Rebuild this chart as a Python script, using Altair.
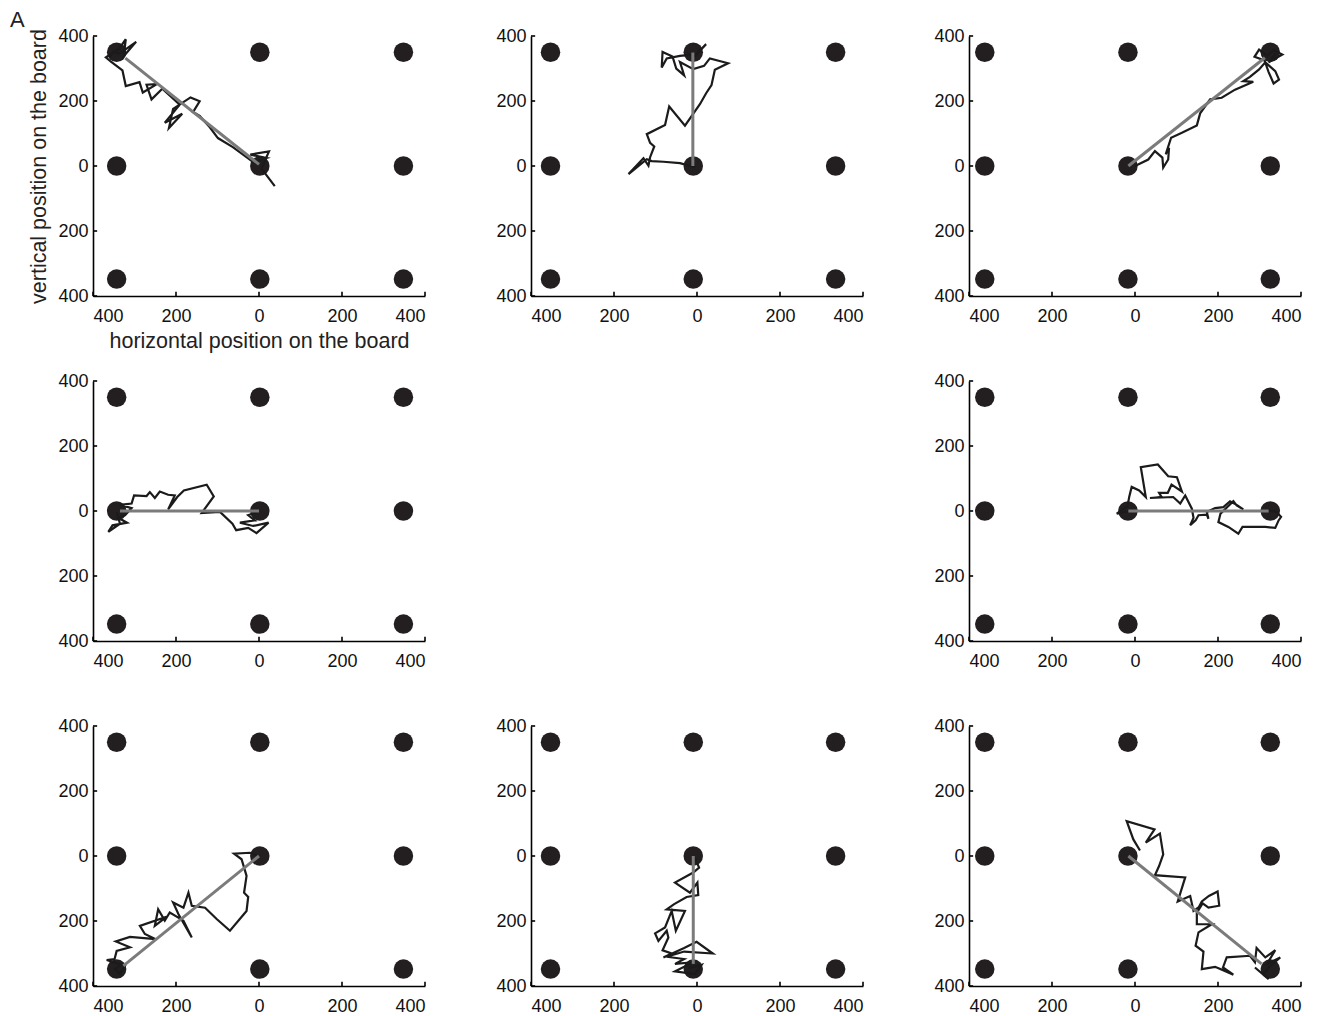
import altair as alt
import pandas as pd

# ---------------- data (board units) ----------------
TICKS = [-400, -200, 0, 200, 400]
DOT_Y = [350, 0, -348]
DOT_X_COL1 = [-343, 2, 348]
DOT_X_COL2 = [-353, -9, 334]
DOT_X_COL3 = [-362, -17, 326]

# panel 1 (row 1, col 1): to upper-left target
P1_X = [38, 6, 24, -21, 18, -14, -63, -99, -119, -143, -159, -143, -165, -207, -217, -185, -227, -191, -233, -259,
        -271, -246, -280, -288, -321, -329, -356, -369, -337, -321, -326, -304, -296, -336, -352, -360]
P1_Y = [-62, -8, 45, 35, 25, 12, 58, 86, 120, 154, 166, 199, 211, 176, 117, 161, 133, 189, 238, 205,
        250, 252, 226, 258, 246, 294, 320, 334, 361, 390, 338, 371, 382, 346, 351, 335]
P1_LINE_X = [0, -322]
P1_LINE_Y = [5, 332]

# panel 2 (row 1, col 2): to upper target
P2_X = [-5, -41, -81, -109, -121, -165, -129, -117, -113, -103, -113, -121, -77, -67, -29, 7, 22, 35, 43, 75,
        31, 17, -9, -41, -31, -50, -59, -83, -85, -73, -41, -1, 22, -5, -13]
P2_Y = [-4, 9, 13, 15, 21, -25, 24, 1, 27, 60, 71, 98, 126, 183, 124, 190, 224, 249, 296, 316,
        331, 308, 298, 320, 279, 300, 337, 351, 303, 331, 339, 344, 375, 339, 349]
P2_LINE_X = [-10, -10]
P2_LINE_Y = [0, 349]

# panel 3 (row 1, col 3): to upper-right target
P3_X = [0, 32, 48, 66, 68, 80, 82, 74, 87, 113, 149, 157, 181, 209, 241, 285, 261, 277, 299, 314,
        338, 347, 334, 322, 312, 288, 299, 318, 334, 355, 322, 339]
P3_Y = [0, 20, 46, 26, -5, 20, 56, 36, 87, 102, 125, 162, 205, 210, 235, 259, 261, 274, 297, 319,
        292, 266, 254, 289, 325, 336, 358, 340, 356, 343, 319, 346]
P3_LINE_X = [-16, 313]
P3_LINE_Y = [0, 333]

# panel 4 (row 2, col 1): to left target
P4_X = [-2, -26, -10, -46, -14, 23, -6, -26, -55, -64, -94, -138, -109, -126, -181, -197, -219, -203, -219, -239,
        -251, -263, -271, -301, -307, -335, -307, -323, -339, -318, -353, -363, -335, -343]
P4_Y = [-3, -13, -29, -36, -46, -36, -68, -52, -59, -39, -3, -6, 45, 81, 63, 43, 5, 48, 50, 60,
        40, 58, 46, 48, 23, 19, 9, -13, -21, -36, -44, -64, -39, -3]
P4_LINE_X = [0, -335]
P4_LINE_Y = [0, 0]

# panel 5 (row 2, col 3): to right target
P5_X = [-16, -44, -18, -14, -8, 10, 26, 14, 55, 80, 101, 113, 88, 79, 58, 64, 36, 92, 109, 121,
        137, 141, 133, 146, 153, 173, 177, 173, 193, 213, 229, 245, 261, 245, 237, 206, 201, 225, 249, 259,
        314, 338, 346, 352, 341, 322]
P5_Y = [-1, -8, 15, 43, 74, 63, 43, 135, 143, 107, 104, 60, 81, 56, 56, 43, 40, 43, 23, 48,
        7, -21, -44, -29, -13, -11, -24, -3, 9, 12, 30, 19, 5, 17, 30, -8, -34, -49, -70, -49,
        -49, -52, -29, -18, -3, 2]
P5_LINE_X = [-16, 322]
P5_LINE_Y = [0, 0]

# panel 6 (row 3, col 1): to lower-left target
P6_X = [2, -22, -60, -42, -30, -36, -26, -30, -70, -102, -130, -162, -170, -182, -207, -194, -162, -182, -215, -227,
        -243, -251, -223, -287, -275, -249, -311, -345, -311, -343, -348, -367, -323, -335, -347, -335]
P6_Y = [-3, 10, 7, -10, -61, -113, -126, -169, -230, -194, -159, -153, -113, -159, -143, -179, -251, -199, -174, -199,
        -164, -215, -187, -215, -240, -256, -249, -263, -281, -292, -317, -320, -338, -363, -348, -338]
P6_LINE_X = [0, -327]
P6_LINE_Y = [0, -338]

# panel 7 (row 3, col 2): to lower target
P7_X = [-5, 5, -9, -53, -17, 1, 3, -25, -55, -73, -29, -51, -61, -77, -101, -93, -73, -69, -83, -61,
        -81, -31, -1, 38, -31, -73, -31, -53, -9, -53, -5, 11, -21, -1]
P7_Y = [-5, -36, -51, -82, -113, -82, -120, -126, -148, -164, -169, -230, -169, -220, -238, -261, -230, -251, -290, -300,
        -312, -283, -264, -300, -294, -310, -317, -332, -327, -355, -363, -335, -345, -338]
P7_LINE_X = [-9, -9]
P7_LINE_Y = [0, -332]

# panel 8 (row 3, col 3): to lower-right target
P8_X = [12, -4, -20, 47, 26, 60, 68, 58, 48, 121, 103, 133, 141, 154, 161, 178, 199, 203, 177, 163,
        149, 149, 185, 153, 146, 165, 161, 193, 219, 237, 212, 221, 277, 289, 293, 314, 338, 318, 350, 322,
        310, 322, 289]
P8_Y = [17, 51, 107, 82, 41, 69, 5, -31, -59, -66, -140, -123, -169, -157, -140, -123, -109, -153, -159, -146,
        -174, -210, -210, -235, -276, -294, -348, -341, -355, -365, -343, -312, -307, -327, -283, -312, -290, -332, -312, -343,
        -363, -379, -343]
P8_LINE_X = [-16, 305]
P8_LINE_Y = [0, -332]

PANELS = [
    # (row, col, traj x, traj y, line x, line y)
    (0, 0, P1_X, P1_Y, P1_LINE_X, P1_LINE_Y),
    (0, 1, P2_X, P2_Y, P2_LINE_X, P2_LINE_Y),
    (0, 2, P3_X, P3_Y, P3_LINE_X, P3_LINE_Y),
    (1, 0, P4_X, P4_Y, P4_LINE_X, P4_LINE_Y),
    (1, 2, P5_X, P5_Y, P5_LINE_X, P5_LINE_Y),
    (2, 0, P6_X, P6_Y, P6_LINE_X, P6_LINE_Y),
    (2, 1, P7_X, P7_Y, P7_LINE_X, P7_LINE_Y),
    (2, 2, P8_X, P8_Y, P8_LINE_X, P8_LINE_Y),
]
DOT_X_BY_COL = [DOT_X_COL1, DOT_X_COL2, DOT_X_COL3]

# ---------------- style ----------------
FONT = "Liberation Sans"
W, H = 332, 260
TICK_LEN_X = 13  # board units (inward tick length on x axis, drawn along y)
TICK_LEN_Y = 10  # board units (inward tick length on y axis, drawn along x)


def panel(row, col, tx, ty, lx, ly, first=False):
    dom = [-400, 400]
    xaxis = alt.Axis(values=TICKS, labelExpr="abs(datum.value)", tickSize=0, grid=False,
                     domainColor="black", domainWidth=1.6, labelPadding=11, labelFontSize=18,
                     labelColor="#111", labelFont=FONT, titleFont=FONT, titleFontSize=21.5,
                     titleFontWeight="normal", titleColor="#222", titlePadding=5,
                     title="horizontal position on the board" if first else "")
    yaxis = alt.Axis(values=TICKS, labelExpr="abs(datum.value)", tickSize=0, grid=False,
                     domainColor="black", domainWidth=1.6, labelPadding=5, labelFontSize=18,
                     labelColor="#111", labelFont=FONT, titleFont=FONT, titleFontSize=21.5,
                     titleFontWeight="normal", titleColor="#222", titlePadding=7,
                     title="vertical position on the board" if first else "")
    xs = alt.Scale(domain=dom, nice=False, zero=False)
    ys = alt.Scale(domain=dom, nice=False, zero=False)

    dots = pd.DataFrame([(x, y) for y in DOT_Y for x in DOT_X_BY_COL[col]], columns=["x", "y"])
    traj = pd.DataFrame({"x": tx, "y": ty, "i": list(range(len(tx)))})
    line = pd.DataFrame({"x": lx, "y": ly, "i": [0, 1]})
    xt = pd.DataFrame({"v": TICKS})

    base_dots = alt.Chart(dots).mark_circle(size=380, color="#231f20", opacity=1).encode(
        x=alt.X("x:Q", scale=xs, axis=xaxis), y=alt.Y("y:Q", scale=ys, axis=yaxis))
    traj_c = alt.Chart(traj).mark_line(color="#1b1b1b", strokeWidth=2.2, strokeJoin="miter").encode(
        x="x:Q", y="y:Q", order="i:Q")
    line_c = alt.Chart(line).mark_line(color="#7b7b7b", strokeWidth=3).encode(
        x="x:Q", y="y:Q", order="i:Q")
    xticks = alt.Chart(xt).mark_rule(color="black", strokeWidth=1.6).encode(
        x="v:Q", y=alt.datum(-400), y2=alt.datum(-400 + TICK_LEN_X))
    yticks = alt.Chart(xt).mark_rule(color="black", strokeWidth=1.6).encode(
        y="v:Q", x=alt.datum(-400), x2=alt.datum(-400 + TICK_LEN_Y))
    ch = alt.layer(base_dots, traj_c, line_c, xticks, yticks).properties(width=W, height=H)
    if first:
        ch = ch.properties(title=alt.TitleParams("A", anchor="start", frame="group", dx=-83, dy=9,
                                                  fontSize=22, fontWeight="normal", font=FONT,
                                                  color="#222"))
    return ch


def blank():
    d = pd.DataFrame({"x": [0]})
    return alt.Chart(d).mark_point(opacity=0).encode(
        x=alt.X("x:Q", axis=None), y=alt.Y("x:Q", axis=None)).properties(width=W, height=H)


grid = {}
for r, c, tx, ty, lx, ly in PANELS:
    grid[(r, c)] = panel(r, c, tx, ty, lx, ly, first=(r == 0 and c == 0))

cells = [grid.get((r, c), blank()) for r in range(3) for c in range(3)]

chart = alt.concat(*cells, columns=3, spacing=alt.RowColnumber(row=85, column=106),
                   bounds="flush").properties(
    padding={"left": 10, "top": 9, "right": 5, "bottom": 5}
).configure(font=FONT).configure_view(stroke="transparent", strokeWidth=0)

chart.save("out.html", embed_options={"renderer": "svg", "actions": False})
